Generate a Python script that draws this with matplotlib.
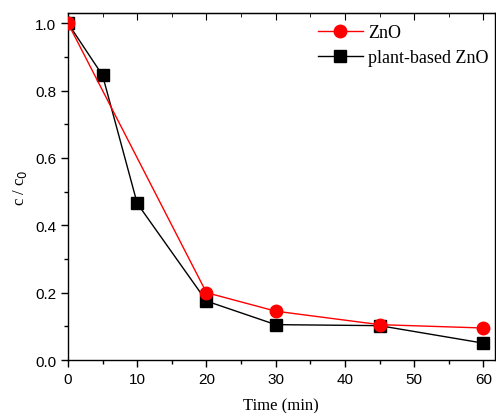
import matplotlib.pyplot as plt
from matplotlib.ticker import MultipleLocator

# data
t_zno = [0, 20, 30, 45, 60]
c_zno = [1.0, 0.2, 0.145, 0.105, 0.095]
t_plant = [0, 5, 10, 20, 30, 45, 60]
c_plant = [1.0, 0.845, 0.465, 0.175, 0.105, 0.102, 0.05]

fig = plt.figure(figsize=(4.96, 4.14), dpi=100)
ax = fig.add_axes([0.137, 0.128, 0.86, 0.838])

ax.plot(t_zno, c_zno, color='red', lw=1, marker='o', ms=9, label='ZnO', zorder=3)
ax.plot(t_plant, c_plant, color='black', lw=1, marker='s', ms=8.5, label='plant-based ZnO', zorder=2)

ax.set_xlim(0, 61.6)
ax.set_ylim(0, 1.03)
ax.xaxis.set_major_locator(MultipleLocator(10))
ax.xaxis.set_minor_locator(MultipleLocator(5))
ax.yaxis.set_major_locator(MultipleLocator(0.2))
ax.yaxis.set_minor_locator(MultipleLocator(0.1))
ax.yaxis.set_major_formatter(plt.FuncFormatter(lambda v, p: f'{v:.1f}'))

ax.tick_params(which='both', direction='out', top=False, right=False,
               labelsize=11, width=1)
ax.tick_params(which='major', length=5)
ax.tick_params(which='minor', length=3)
for lab in ax.get_xticklabels() + ax.get_yticklabels():
    lab.set_fontfamily('Liberation Sans')

# inward ticks on the top spine
top = ax.secondary_xaxis('top')
top.xaxis.set_major_locator(MultipleLocator(10))
top.xaxis.set_minor_locator(MultipleLocator(5))
top.tick_params(which='both', direction='in', labeltop=False)
top.tick_params(which='major', length=5)
top.tick_params(which='minor', length=3)

for s in ax.spines.values():
    s.set_linewidth(1)

ax.set_xlabel('Time (min)', family='Liberation Serif', fontsize=12, labelpad=8)
ax.set_ylabel('c / c$_0$', family='Liberation Serif', fontsize=12, labelpad=4)

leg = ax.legend(loc='upper right', frameon=False, prop={'family': 'Liberation Serif', 'size': 13},
                handlelength=2.5, borderaxespad=0.2, labelspacing=0.45, handletextpad=0.3,
                bbox_to_anchor=(1.012, 1.0))

fig.savefig('out.png', dpi=100)
